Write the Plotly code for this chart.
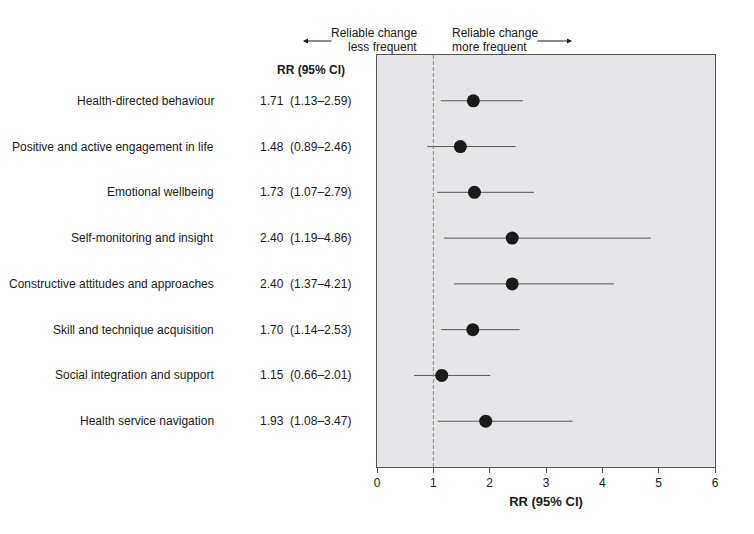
import plotly.graph_objects as go

categories = [
    "Health-directed behaviour",
    "Positive and active engagement in life",
    "Emotional wellbeing",
    "Self-monitoring and insight",
    "Constructive attitudes and approaches",
    "Skill and technique acquisition",
    "Social integration and support",
    "Health service navigation",
]
rr = [1.71, 1.48, 1.73, 2.40, 2.40, 1.70, 1.15, 1.93]
lo = [1.13, 0.89, 1.07, 1.19, 1.37, 1.14, 0.66, 1.08]
hi = [2.59, 2.46, 2.79, 4.86, 4.21, 2.53, 2.01, 3.47]
tick_vals = [0, 1, 2, 3, 4, 5, 6]

rows = list(range(1, len(categories) + 1))
FONT = "Liberation Sans, Arial, sans-serif"
TXT = "#1a1a1a"

fig = go.Figure()
fig.add_trace(go.Scatter(
    x=rr, y=rows, mode="markers",
    marker=dict(color="#1a1a1a", size=13),
    error_x=dict(type="data", symmetric=False,
                 array=[h - r for h, r in zip(hi, rr)],
                 arrayminus=[r - l for r, l in zip(rr, lo)],
                 color="#555555", thickness=1, width=0),
    showlegend=False, hoverinfo="skip",
))

fig.add_shape(type="line", x0=1, x1=1, y0=0, y1=1, xref="x", yref="paper",
              line=dict(color="#888888", width=1, dash="4px,2px"))

ann = []
for cat, r, l, h, y in zip(categories, rr, lo, hi, rows):
    ann.append(dict(x=-0.476, y=y, xref="paper", yref="y", text=cat,
                    xanchor="right", yanchor="middle", showarrow=False,
                    font=dict(size=12, color=TXT)))
    ann.append(dict(x=-0.351, y=y, xref="paper", yref="y",
                    text=f"{r:.2f}  ({l:.2f}\u2013{h:.2f})",
                    xanchor="left", yanchor="middle", showarrow=False,
                    font=dict(size=12, color=TXT)))
ann.append(dict(x=-0.302, y=0.33, xref="paper", yref="y", text="<b>RR (95% CI)</b>",
                xanchor="left", yanchor="middle", showarrow=False,
                font=dict(size=12, color=TXT)))
for txt, yy in [("Reliable change", 1.054), ("less frequent", 1.020)]:
    ann.append(dict(x=0.124, y=yy, xref="paper", yref="paper", text=txt,
                    xanchor="right", yanchor="middle", showarrow=False,
                    font=dict(size=12, color=TXT)))
for txt, yy in [("Reliable change", 1.054), ("more frequent", 1.020)]:
    ann.append(dict(x=0.216, y=yy, xref="paper", yref="paper", text=txt,
                    xanchor="left", yanchor="middle", showarrow=False,
                    font=dict(size=12, color=TXT)))
# arrows
ann.append(dict(x=-0.219, y=1.034, ax=30, ay=0, xref="paper", yref="paper",
                axref="pixel", ayref="pixel", text="", showarrow=True,
                arrowhead=2, arrowsize=1, arrowwidth=1, arrowcolor=TXT))
ann.append(dict(x=0.577, y=1.034, ax=-36, ay=0, xref="paper", yref="paper",
                axref="pixel", ayref="pixel", text="", showarrow=True,
                arrowhead=2, arrowsize=1, arrowwidth=1, arrowcolor=TXT))

fig.update_layout(
    width=754, height=534,
    margin=dict(l=369, r=47, t=47, b=75),
    paper_bgcolor="white", plot_bgcolor="#e6e6e8",
    font=dict(family=FONT, size=12, color=TXT),
    annotations=ann,
    xaxis=dict(range=[0, 6], tickvals=tick_vals, ticks="outside", ticklen=5,
               tickcolor="#555", showgrid=False, zeroline=False,
               showline=True, linecolor="#555", linewidth=1, mirror=True,
               title=dict(text="<b>RR (95% CI)</b>", font=dict(size=13), standoff=7),
               tickfont=dict(size=12)),
    yaxis=dict(range=[9, 0], showticklabels=False, showgrid=False, zeroline=False,
               showline=True, linecolor="#555", linewidth=1, mirror=True, ticks=""),
)

fig.write_html("out.html")
